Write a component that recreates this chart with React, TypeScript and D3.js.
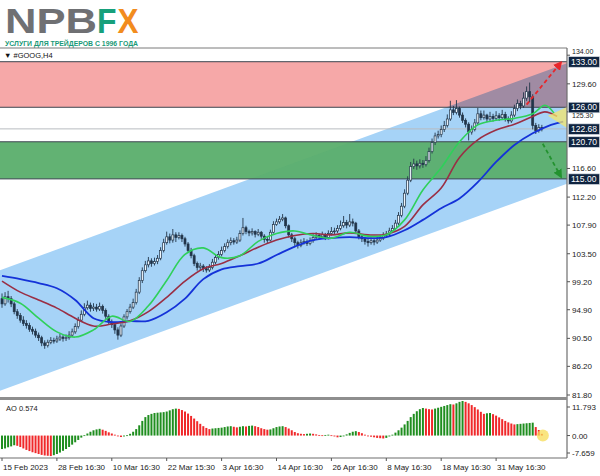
import React from "react";
import * as d3 from "d3";

const W = 600;
const H = 476;

// ---- OHLC data (H4 bars) ----
const opens = [
  96.6, 95.8, 96.9, 96.6, 95.8, 94.6, 94.0, 93.3, 92.8, 92.5,
  91.9, 91.6, 91.0, 90.6, 89.8, 89.4, 89.9, 90.2, 90.1, 90.4,
  90.7, 90.5, 90.6, 91.0, 91.5, 92.3, 93.3, 94.2, 95.2, 95.6,
  95.1, 95.3, 95.0, 95.4, 94.8, 93.9, 93.0, 92.6, 91.8, 91.0,
  92.4, 93.8, 94.6, 95.3, 96.0, 97.6, 99.4, 100.9, 101.8, 102.4,
  102.0, 102.3, 102.8, 104.0, 105.2, 106.1, 105.6, 106.4, 106.0, 106.3,
  105.8, 105.0, 104.0, 103.2, 102.0, 101.4, 101.6, 101.2, 101.0, 101.4,
  102.2, 102.9, 103.4, 104.0, 104.6, 105.2, 105.5, 105.3, 105.6, 106.6,
  107.5, 106.9, 106.7, 106.9, 106.5, 106.8, 106.2, 105.7, 105.6, 106.8,
  108.0, 108.4, 108.8, 109.0, 107.8, 106.4, 105.8, 105.2, 104.8, 105.2,
  105.4, 105.1, 105.5, 106.0, 106.3, 106.1, 106.4, 106.0, 106.6, 106.9,
  107.0, 107.4, 107.8, 108.3, 107.9, 108.4, 108.2, 107.0, 106.1, 105.8,
  105.4, 105.2, 105.5, 105.3, 105.6, 105.9, 106.3, 106.5, 107.0, 107.4,
  108.2, 109.4, 110.8, 112.8, 114.8, 116.9, 117.3, 117.0, 117.4, 117.2,
  117.8, 119.2, 120.6, 121.6, 121.8, 122.6, 123.2, 124.2, 125.6, 125.2,
  125.8, 124.8, 124.0, 123.4, 122.2, 122.6, 123.6, 125.0, 124.4, 124.8,
  124.2, 124.6, 124.3, 124.7, 124.4, 124.9, 124.2, 123.9, 124.8, 125.8,
  126.6, 126.2, 127.4, 128.4, 127.6, 123.2, 122.4, 122.9,
];
const highs = [
  97.4, 97.6, 97.8, 97.0, 96.1, 95.0, 94.4, 93.9, 93.3, 92.9,
  92.3, 92.0, 91.4, 90.9, 90.2, 90.3, 90.7, 90.6, 90.9, 91.2,
  91.0, 91.1, 91.6, 92.0, 92.8, 93.8, 94.8, 95.9, 96.3, 96.0,
  95.9, 95.8, 96.0, 95.7, 95.1, 94.2, 93.4, 92.9, 92.2, 92.8,
  94.2, 95.0, 95.8, 96.6, 98.1, 99.9, 101.4, 102.4, 103.0, 102.8,
  102.9, 103.3, 104.5, 105.8, 106.9, 106.6, 107.3, 106.8, 106.8, 106.6,
  106.1, 105.3, 104.4, 103.5, 102.3, 102.1, 101.9, 101.6, 101.9, 102.7,
  103.4, 103.9, 104.6, 105.1, 105.7, 106.0, 105.9, 106.1, 107.1, 109.0,
  107.8, 107.2, 107.4, 107.1, 107.3, 107.0, 106.5, 106.1, 107.2, 108.5,
  108.9, 109.3, 109.6, 109.2, 108.0, 106.7, 106.1, 105.5, 105.7, 105.9,
  105.7, 106.0, 106.5, 106.8, 106.6, 106.9, 106.7, 107.1, 107.6, 107.5,
  107.9, 108.6, 109.3, 108.7, 109.6, 108.9, 108.4, 107.3, 106.5, 106.1,
  105.8, 106.0, 105.9, 106.1, 106.4, 106.8, 107.0, 107.5, 107.9, 108.7,
  109.9, 111.3, 113.4, 115.4, 117.6, 118.1, 117.8, 118.0, 117.9, 118.5,
  119.8, 121.2, 122.1, 122.4, 123.2, 123.9, 124.9, 127.0, 126.2, 127.1,
  126.1, 125.2, 124.3, 123.7, 123.2, 124.2, 125.9, 125.5, 125.5, 125.0,
  125.3, 125.0, 125.4, 125.1, 125.6, 125.3, 124.6, 125.4, 126.4, 127.2,
  127.0, 128.3, 129.2, 129.8, 128.0, 123.6, 123.4, 123.3,
];
const lows = [
  95.2, 95.5, 96.0, 95.3, 94.2, 93.5, 92.9, 92.4, 92.0, 91.5,
  91.1, 90.6, 90.1, 89.3, 88.9, 89.1, 89.6, 89.7, 89.8, 90.1,
  90.0, 90.1, 90.3, 90.7, 91.2, 92.0, 93.0, 93.9, 94.9, 94.6,
  94.7, 94.6, 94.7, 94.3, 93.5, 92.6, 92.1, 91.2, 90.3, 90.7,
  92.1, 93.4, 94.3, 95.0, 95.7, 97.3, 99.0, 100.6, 101.4, 101.5,
  101.7, 101.9, 102.5, 103.7, 104.9, 105.1, 105.2, 105.3, 105.7, 105.3,
  104.6, 103.6, 102.8, 101.6, 100.9, 101.0, 100.7, 100.6, 100.7, 101.1,
  101.9, 102.6, 103.1, 103.7, 104.3, 104.8, 104.9, 105.0, 105.3, 106.3,
  106.5, 106.2, 106.3, 106.0, 106.2, 105.8, 105.2, 105.1, 105.4, 106.6,
  107.8, 108.1, 108.5, 107.4, 106.0, 105.3, 104.7, 104.3, 104.5, 104.9,
  104.7, 104.8, 105.2, 105.7, 105.7, 105.8, 105.6, 105.7, 106.3, 106.5,
  106.7, 107.1, 107.5, 107.4, 107.6, 107.7, 106.6, 105.7, 105.3, 104.9,
  104.6, 104.9, 104.8, 105.0, 105.3, 105.6, 106.0, 106.2, 106.7, 107.1,
  107.9, 109.1, 110.5, 112.5, 114.5, 116.5, 116.4, 116.6, 116.7, 116.9,
  117.5, 118.9, 120.2, 121.2, 121.4, 122.2, 122.9, 123.9, 124.8, 124.9,
  124.4, 123.6, 122.9, 120.9, 121.8, 122.3, 123.3, 124.0, 124.1, 123.7,
  123.9, 123.8, 124.0, 123.9, 124.1, 123.8, 123.5, 123.6, 124.5, 125.4,
  125.7, 125.9, 127.0, 126.8, 122.6, 121.9, 122.1, 122.3,
];
const closes = [
  95.8, 96.9, 96.6, 95.8, 94.6, 94.0, 93.3, 92.8, 92.5, 91.9,
  91.6, 91.0, 90.6, 89.8, 89.4, 89.9, 90.2, 90.1, 90.4, 90.7,
  90.5, 90.6, 91.0, 91.5, 92.3, 93.3, 94.2, 95.2, 95.6, 95.1,
  95.3, 95.0, 95.4, 94.8, 93.9, 93.0, 92.6, 91.8, 91.0, 92.4,
  93.8, 94.6, 95.3, 96.0, 97.6, 99.4, 100.9, 101.8, 102.4, 102.0,
  102.3, 102.8, 104.0, 105.2, 106.1, 105.6, 106.4, 106.0, 106.3, 105.8,
  105.0, 104.0, 103.2, 102.0, 101.4, 101.6, 101.2, 101.0, 101.4, 102.2,
  102.9, 103.4, 104.0, 104.6, 105.2, 105.5, 105.3, 105.6, 106.6, 107.5,
  106.9, 106.7, 106.9, 106.5, 106.8, 106.2, 105.7, 105.6, 106.8, 108.0,
  108.4, 108.8, 109.0, 107.8, 106.4, 105.8, 105.2, 104.8, 105.2, 105.4,
  105.1, 105.5, 106.0, 106.3, 106.1, 106.4, 106.0, 106.6, 106.9, 107.0,
  107.4, 107.8, 108.3, 107.9, 108.4, 108.2, 107.0, 106.1, 105.8, 105.4,
  105.2, 105.5, 105.3, 105.6, 105.9, 106.3, 106.5, 107.0, 107.4, 108.2,
  109.4, 110.8, 112.8, 114.8, 116.9, 117.3, 117.0, 117.4, 117.2, 117.8,
  119.2, 120.6, 121.6, 121.8, 122.6, 123.2, 124.2, 125.6, 125.2, 125.8,
  124.8, 124.0, 123.4, 122.2, 122.6, 123.6, 125.0, 124.4, 124.8, 124.2,
  124.6, 124.3, 124.7, 124.4, 124.9, 124.2, 123.9, 124.8, 125.8, 126.6,
  126.2, 127.4, 128.4, 127.6, 123.2, 122.4, 122.9, 122.68,
];

// ---- Alligator lines (bar index, price) ----
const jawIdx = [0, 6, 12, 18, 24, 30, 36, 42, 48, 54, 60, 66, 72, 78, 84, 90, 96, 102, 108, 114, 120, 126, 132, 138, 144, 150, 156, 162, 168, 174, 180, 184];
const jawVals = [100.1, 99.6, 99.0, 98.2, 96.4, 93.6, 93.0, 93.15, 93.2, 94.5, 96.6, 99.6, 101.1, 101.6, 102.0, 103.3, 104.6, 105.6, 105.9, 106.05, 105.9, 106.05, 107.1, 108.7, 110.5, 112.0, 114.5, 117.6, 120.2, 122.0, 123.3, 123.8];
const teethIdx = [0, 6, 12, 18, 24, 30, 36, 42, 48, 54, 60, 66, 72, 78, 84, 90, 96, 102, 108, 114, 120, 126, 132, 138, 144, 150, 156, 162, 168, 174, 178, 182];
const teethVals = [99.3, 97.6, 96.4, 95.15, 93.6, 92.4, 92.7, 93.2, 94.6, 96.8, 99.3, 101.2, 102.0, 103.2, 104.5, 105.6, 106.3, 106.6, 106.4, 106.7, 106.4, 106.5, 107.7, 111.0, 113.6, 118.3, 121.0, 122.5, 123.4, 124.6, 125.3, 124.6];
const lipsIdx = [0, 6, 12, 18, 24, 30, 36, 42, 48, 54, 60, 66, 72, 78, 84, 90, 96, 102, 108, 114, 120, 126, 132, 138, 144, 150, 156, 162, 168, 174, 178, 181];
const lipsVals = [96.8, 95.9, 93.6, 91.5, 90.7, 91.8, 93.9, 93.1, 95.5, 99.4, 103.4, 104.4, 102.9, 103.2, 105.4, 106.6, 107.0, 106.3, 105.9, 106.8, 106.2, 106.4, 108.7, 113.3, 116.7, 120.7, 123.3, 124.0, 124.3, 125.0, 126.3, 125.1];

// ---- Awesome Oscillator ----
const aoValues = [
  -4.6, -4.4, -4.0, -3.7, -3.3, -3.5, -3.9, -4.4, -4.9, -5.3,
  -5.7, -6.0, -6.3, -6.6, -6.8, -6.9, -7.0, -6.7, -6.3, -5.8,
  -5.2, -4.6, -3.9, -3.1, -2.3, -1.5, -0.7, 0.1, 0.7, 1.3,
  1.8, 2.1, 2.3, 2.0, 1.6, 1.1, 0.7, 0.3, -0.1, -0.5,
  -0.3, 0.1, 0.6, 1.3, 2.2, 3.5, 5.0, 6.3, 7.0, 7.4,
  7.7, 7.8, 7.9, 8.0, 8.2, 8.6, 9.0, 9.2, 9.1, 8.7,
  8.2, 7.5, 6.7, 5.8, 4.9, 4.0, 3.2, 2.6, 2.2, 2.4,
  2.5, 2.6, 2.7, 2.9, 3.1, 3.2, 3.0, 2.8, 3.0, 3.2,
  3.1, 3.3, 3.4, 3.2, 2.9, 2.5, 2.2, 2.0, 2.1, 2.5,
  2.9, 3.1, 3.2, 2.9, 2.4, 1.8, 1.2, 0.8, 0.6, 0.5,
  0.6, 0.7, 0.6, 0.4, 0.2, 0.1, 0.2, 0.3, 0.1, -0.3,
  -0.6, -0.5, -0.1, 0.4, 0.9, 1.3, 1.5, 1.2, 0.8, 0.3,
  -0.1, -0.4, -0.6, -0.8, -0.9, -1.0, -0.8, -0.3, 0.3, 1.0,
  1.8, 2.7, 3.8, 5.0, 6.3, 7.4, 8.3, 9.0, 9.4, 9.2,
  9.0, 8.9, 9.2, 9.5, 9.8, 10.1, 10.4, 10.7, 10.6, 11.0,
  11.5, 11.79, 11.5, 11.0, 10.4, 9.7, 8.9, 8.1, 7.4, 7.6,
  7.7, 7.3, 6.8, 6.2, 5.6, 5.0, 4.5, 4.1, 3.8, 3.9,
  4.0, 4.1, 4.2, 4.3, 4.4, 2.9, 1.9, 0.574,
];

// ---- Axis labels ----
const priceTicks = [134.0, 129.6, 125.3, 116.6, 112.2, 107.9, 103.5, 99.2, 94.9, 90.5, 86.2, 81.8];
const markedLevels = [133.0, 126.0, 122.68, 120.7, 115.0];
const aoTickValues = [11.793, 0.0, -7.659];
const aoTickLabels = ["11.793", "0.00", "-7.659"];
const xLabels = ["15 Feb 2023", "28 Feb 16:30", "10 Mar 16:30", "22 Mar 15:30", "3 Apr 16:30", "14 Apr 16:30", "26 Apr 16:30", "8 May 16:30", "18 May 16:30", "31 May 16:30"];
const xLabelBars = [0, 18, 36, 54, 72, 90, 108, 126, 144, 162];

// ---- Drawn objects (bar index, price) ----
const sellZone = [126.0, 133.0];
const buyZone = [115.0, 120.7];
const levelLines = [133.0, 126.0, 120.7, 115.0];
const currentPrice = 122.68;
const channelUpper = [[-1, 100.9], [186, 132.9]];
const channelLower = [[-1, 82.4], [186, 114.4]];
const upArrow = [[172, 126.4], [183.3, 132.9]];
const downArrow = [[177.3, 120.4], [183.3, 115.3]];
const highlightWedge = [[179, 124.7], [186, 126.2], [186, 122.6]];

const FONT = "'Liberation Sans', Arial, sans-serif";

export default function App() {
  const plotRight = 567;
  const mainTop = 48;
  const mainBottom = 397;
  const aoTop = 401;
  const aoBottom = 458;

  const x = d3.scaleLinear().domain([0, 177]).range([2, 541.85]);
  const y = d3.scaleLinear().domain([81.8, 134]).range([395, 55.2]);
  const yAo = d3.scaleLinear().domain([-7.659, 11.793]).range([aoBottom, aoTop]);
  // label positions on the AO axis (MT4 keeps the extreme labels inside the window)
  const aoLabelY = (k: number) => (k === 0 ? 407 : k === 2 ? 453 : yAo(aoTickValues[k]));
  // price-axis label baseline: the top label sits above the first marked box,
  // the 125.30 label is nudged just below the 126.00 box
  const priceLabelY = (p: number, k: number) => (k === 0 ? y(p) - 1.5 : k === 2 ? y(p) + 6 : y(p) + 3);

  const lineGen = (idx: number[], vals: number[]) =>
    d3
      .line<number>()
      .x((_, i) => x(idx[i]))
      .y((v) => y(v))
      .curve(d3.curveCatmullRom.alpha(0.5))(vals) || "";

  const channelPath =
    d3.line<number[]>().x((d) => x(d[0])).y((d) => y(d[1]))([
      channelUpper[0],
      channelUpper[1],
      channelLower[1],
      channelLower[0],
    ]) + "Z";

  const wedgePath = d3.line<number[]>().x((d) => x(d[0])).y((d) => y(d[1]))(highlightWedge) + "Z";

  const candleStroke = "#22354a";

  return (
    <svg
      width={W}
      height={H}
      style={{ position: "fixed", left: 0, top: 0, background: "#fff" }}
      fontFamily={FONT}
    >
      <defs>
        <clipPath id="mainClip">
          <rect x={0} y={mainTop + 12} width={plotRight} height={mainBottom - mainTop - 12} />
        </clipPath>
        <clipPath id="aoClip">
          <rect x={0} y={aoTop} width={plotRight} height={aoBottom - aoTop} />
        </clipPath>
        <marker id="arrRed" viewBox="0 0 10 10" refX="8" refY="5" markerWidth="5" markerHeight="5" orient="auto">
          <path d="M0,0 L10,5 L0,10 z" fill="#e8262b" />
        </marker>
        <marker id="arrGreen" viewBox="0 0 10 10" refX="8" refY="5" markerWidth="5" markerHeight="5" orient="auto">
          <path d="M0,0 L10,5 L0,10 z" fill="#23922f" />
        </marker>
      </defs>

      <rect x={0} y={0} width={W} height={H} fill="#fff" />

      {/* Logo */}
      <text x={5} y={32.5} fontSize={35} fontWeight="bold" fill="#6f7073" textLength={92} lengthAdjust="spacingAndGlyphs">
        NPB
      </text>
      <text x={97} y={32.5} fontSize={35} fontWeight="bold" fill="#17a07b" textLength={19.5} lengthAdjust="spacingAndGlyphs">
        F
      </text>
      <text x={117.5} y={32.5} fontSize={35} fontWeight="bold" fill="#f28c1e" textLength={21} lengthAdjust="spacingAndGlyphs">
        X
      </text>
      <text x={5} y={46} fontSize={7} fontWeight="bold" fill="#1a9a78" textLength={133} lengthAdjust="spacingAndGlyphs">
        УСЛУГИ ДЛЯ ТРЕЙДЕРОВ С 1996 ГОДА
      </text>

      {/* Main panel */}
      <g clipPath="url(#mainClip)">
        <path d={channelPath} fill="#a6d3f7" />
        <rect
          x={0}
          y={y(sellZone[1])}
          width={plotRight}
          height={y(sellZone[0]) - y(sellZone[1])}
          fill="#f6a8a8"
          style={{ mixBlendMode: "multiply" }}
        />
        <rect
          x={0}
          y={y(buyZone[1])}
          width={plotRight}
          height={y(buyZone[0]) - y(buyZone[1])}
          fill="#5aae6c"
          opacity={0.95}
        />
        {levelLines.map((lv) => (
          <line key={lv} x1={0} x2={plotRight} y1={y(lv)} y2={y(lv)} stroke="#3c4650" strokeWidth={1} />
        ))}
        <line x1={0} x2={plotRight} y1={y(currentPrice)} y2={y(currentPrice)} stroke="#b8bcc0" strokeWidth={1} />

        {/* candles */}
        {closes.map((c, i) => {
          const o = opens[i];
          const cx = x(i);
          const top = y(Math.max(o, c));
          const bot = y(Math.min(o, c));
          const bull = c >= o;
          return (
            <g key={i}>
              <line x1={cx} x2={cx} y1={y(highs[i])} y2={y(lows[i])} stroke={candleStroke} strokeWidth={0.9} />
              <rect
                x={cx - 1}
                y={top}
                width={2}
                height={Math.max(bot - top, 0.8)}
                fill={bull ? "#eef5fb" : candleStroke}
                stroke={candleStroke}
                strokeWidth={0.7}
              />
            </g>
          );
        })}

        {/* Alligator */}
        <path d={lineGen(jawIdx, jawVals)} fill="none" stroke="#1432d8" strokeWidth={1.8} />
        <path d={lineGen(teethIdx, teethVals)} fill="none" stroke="#9a2f45" strokeWidth={1.6} />
        <path d={lineGen(lipsIdx, lipsVals)} fill="none" stroke="#2fd05a" strokeWidth={1.6} />

        <path d={wedgePath} fill="#f6e56a" opacity={0.75} />

        <line
          x1={x(upArrow[0][0])}
          y1={y(upArrow[0][1])}
          x2={x(upArrow[1][0])}
          y2={y(upArrow[1][1])}
          stroke="#e8262b"
          strokeWidth={1.8}
          strokeDasharray="4,3"
          markerEnd="url(#arrRed)"
        />
        <line
          x1={x(downArrow[0][0])}
          y1={y(downArrow[0][1])}
          x2={x(downArrow[1][0])}
          y2={y(downArrow[1][1])}
          stroke="#23922f"
          strokeWidth={1.8}
          strokeDasharray="4,3"
          markerEnd="url(#arrGreen)"
        />
      </g>

      {/* main panel frame */}
      <line x1={0} x2={plotRight} y1={mainTop} y2={mainTop} stroke="#7a7a7a" strokeWidth={1} />
      <line x1={plotRight} x2={plotRight} y1={mainTop} y2={aoBottom} stroke="#6e6e6e" strokeWidth={1.2} />
      <rect x={0} y={mainBottom} width={plotRight} height={3} fill="#8e8e8e" />
      <text x={4} y={58} fontSize={7.5} fill="#111">
        ▼ #GOOG,H4
      </text>

      {/* Price axis */}
      {priceTicks.map((p, k) => (
        <g key={p}>
          <line x1={plotRight} x2={plotRight + 3} y1={y(p)} y2={y(p)} stroke="#555" />
          <text x={572} y={priceLabelY(p, k)} fontSize={k === 0 || k === 2 ? 7 : 8} fill="#222">
            {p.toFixed(2)}
          </text>
        </g>
      ))}
      {markedLevels.map((p) => (
        <g key={p}>
          <rect x={568.5} y={y(p) - 5} width={31} height={10.5} fill="#0f2440" stroke="#cfd6de" strokeWidth={0.6} />
          <text x={571} y={y(p) + 3.2} fontSize={8.5} fill="#fff">
            {p.toFixed(2)}
          </text>
        </g>
      ))}

      {/* AO panel */}
      <g clipPath="url(#aoClip)">
        {aoValues.map((v, i) => {
          const up = i === 0 ? true : v >= aoValues[i - 1];
          const y0 = yAo(0);
          const y1 = yAo(v);
          return (
            <rect
              key={i}
              x={x(i) - 1}
              y={Math.min(y0, y1)}
              width={2}
              height={Math.max(Math.abs(y1 - y0), 0.8)}
              fill={up ? "#1f8e1f" : "#f0282a"}
            />
          );
        })}
      </g>
      <circle cx={x(177) + 1} cy={yAo(0)} r={6} fill="#f7dc55" opacity={0.75} />
      <text x={6} y={411} fontSize={7.5} fill="#222">
        AO 0.574
      </text>
      <line x1={0} x2={plotRight} y1={aoBottom} y2={aoBottom} stroke="#6e6e6e" strokeWidth={1.2} />
      {aoTickValues.map((t, k) => (
        <g key={t}>
          <line x1={plotRight} x2={plotRight + 3} y1={aoLabelY(k)} y2={aoLabelY(k)} stroke="#555" />
          <text x={572} y={aoLabelY(k) + 3} fontSize={8} fill="#222">
            {aoTickLabels[k]}
          </text>
        </g>
      ))}

      {/* Time axis */}
      {xLabels.map((lab, k) => {
        const xx = x(xLabelBars[k]);
        return (
          <g key={lab}>
            <line x1={xx} x2={xx} y1={aoBottom} y2={aoBottom + 3} stroke="#555" />
            <text x={xx + 1} y={470} fontSize={8} fill="#222">
              {lab}
            </text>
          </g>
        );
      })}
    </svg>
  );
}
